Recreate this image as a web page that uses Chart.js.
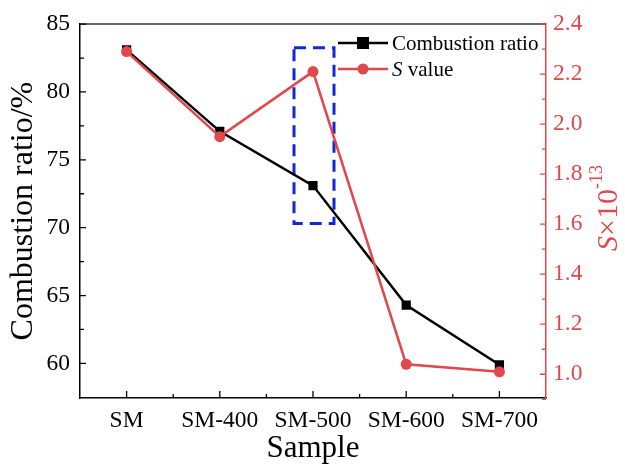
<!DOCTYPE html>
<html>
<head>
<meta charset="utf-8">
<script src="https://cdn.jsdelivr.net/npm/chart.js@4.4.1/dist/chart.umd.min.js"></script>
<style>
  html, body { margin: 0; padding: 0; background: #fff; }
  #wrap { width: 625px; height: 467px; }
</style>
</head>
<body>
<div id="wrap"><canvas id="myChart"></canvas></div>
<script>
(function () {
  'use strict'

  // data
  var samples = ['SM', 'SM-400', 'SM-500', 'SM-600', 'SM-700']
  var combustionRatio = [83.1, 77.1, 73.1, 64.3, 59.9]
  var sValue = [2.29, 1.95, 2.21, 1.04, 1.01]
  var leftTicks = [60, 65, 70, 75, 80, 85]
  var rightTicks = [1.0, 1.2, 1.4, 1.6, 1.8, 2.0, 2.2, 2.4]
  // dashed box around SM-500 (in left-axis units)
  var boxRange = [70.3, 83.25]

  var RED = '#e0484b'
  var BLUE = '#1428d2'
  var FONT = "'Liberation Serif', 'Times New Roman', serif"

  function keepTicks(list) {
    return function (scale) {
      scale.ticks = list.map(function (v) { return { value: v } })
    }
  }

  var extras = {
    id: 'extras',
    beforeDatasetsDraw: function (chart) {
      var ctx = chart.ctx
      var x = chart.scales.x, y = chart.scales.y
      var cx = x.getPixelForValue(2)
      ctx.save()
      ctx.strokeStyle = BLUE
      ctx.lineWidth = 3
      ctx.setLineDash([12, 7])
      ctx.strokeRect(cx - 19, y.getPixelForValue(boxRange[1]), 40, y.getPixelForValue(boxRange[0]) - y.getPixelForValue(boxRange[1]))
      ctx.restore()
    },
    afterDraw: function (chart) {
      var ctx = chart.ctx
      var a = chart.chartArea
      var x = chart.scales.x, y = chart.scales.y, y1 = chart.scales.y1
      var i, p
      ctx.save()
      // top frame line
      ctx.strokeStyle = '#333'
      ctx.lineWidth = 1.5
      ctx.beginPath()
      ctx.moveTo(a.left, a.top); ctx.lineTo(a.right, a.top)
      ctx.stroke()

      // inward ticks
      ctx.lineWidth = 1.3
      ctx.strokeStyle = '#000'
      ctx.beginPath()
      for (i = 0; i < samples.length; i++) {
        p = x.getPixelForValue(i)
        ctx.moveTo(p, a.bottom); ctx.lineTo(p, a.bottom - 7)
        if (i < samples.length - 1) {
          p = (p + x.getPixelForValue(i + 1)) / 2
          ctx.moveTo(p, a.bottom); ctx.lineTo(p, a.bottom - 4)
        }
      }
      for (i = 0; i < leftTicks.length; i++) {
        p = y.getPixelForValue(leftTicks[i])
        ctx.moveTo(a.left, p); ctx.lineTo(a.left + 6, p)
        if (i < leftTicks.length - 1) {
          p = y.getPixelForValue((leftTicks[i] + leftTicks[i + 1]) / 2)
          ctx.moveTo(a.left, p); ctx.lineTo(a.left + 4, p)
        }
      }
      ctx.stroke()
      ctx.strokeStyle = RED
      ctx.beginPath()
      for (i = 0; i < rightTicks.length; i++) {
        p = y1.getPixelForValue(rightTicks[i])
        ctx.moveTo(a.right, p); ctx.lineTo(a.right - 6, p)
        if (i < rightTicks.length - 1) {
          p = y1.getPixelForValue((rightTicks[i] + rightTicks[i + 1]) / 2)
          ctx.moveTo(a.right, p); ctx.lineTo(a.right - 4, p)
        }
      }
      p = y1.getPixelForValue(0.9)
      ctx.moveTo(a.right, p); ctx.lineTo(a.right - 4, p)
      ctx.stroke()

      // legend
      ctx.lineWidth = 2.5
      ctx.strokeStyle = '#000'
      ctx.beginPath(); ctx.moveTo(338, 43); ctx.lineTo(388, 43); ctx.stroke()
      ctx.fillStyle = '#000'
      ctx.fillRect(357, 37, 12, 12)
      ctx.strokeStyle = RED
      ctx.beginPath(); ctx.moveTo(338, 69); ctx.lineTo(388, 69); ctx.stroke()
      ctx.fillStyle = RED
      ctx.beginPath(); ctx.arc(363, 69, 5.5, 0, Math.PI * 2); ctx.fill()
      ctx.fillStyle = '#000'
      ctx.textBaseline = 'middle'
      ctx.textAlign = 'left'
      ctx.font = '21px ' + FONT
      ctx.fillText('Combustion ratio', 392, 44)
      ctx.font = 'italic 21px ' + FONT
      ctx.fillText('S', 392, 70)
      var sw = ctx.measureText('S').width
      ctx.font = '21px ' + FONT
      ctx.fillText(' value', 392 + sw, 70)

      // right axis title  S×10^-13
      ctx.translate(609, 208)
      ctx.rotate(-Math.PI / 2)
      ctx.fillStyle = RED
      ctx.font = 'italic 30px ' + FONT
      var w1 = ctx.measureText('S').width
      ctx.font = '30px ' + FONT
      var w2 = ctx.measureText('\u00d710').width
      ctx.font = '18px ' + FONT
      var w3 = ctx.measureText('-13').width
      var x0 = -(w1 + w2 + w3) / 2
      ctx.font = 'italic 30px ' + FONT
      ctx.fillText('S', x0, 0)
      ctx.font = '30px ' + FONT
      ctx.fillText('\u00d710', x0 + w1, 0)
      ctx.font = '18px ' + FONT
      ctx.fillText('-13', x0 + w1 + w2, -12)
      ctx.restore()
    }
  }

  var ctx01 = document.getElementById('myChart')
  // eslint-disable-next-line no-unused-vars
  var myChart = new Chart(ctx01, {
    type: 'line',
    data: {
      labels: samples,
      datasets: [{
        label: 'Combustion ratio',
        data: combustionRatio,
        yAxisID: 'y',
        borderColor: '#000',
        backgroundColor: '#000',
        borderWidth: 2.5,
        pointStyle: 'rect',
        pointRadius: 6.5,
        pointBorderWidth: 0,
        order: 1
      }, {
        label: 'S value',
        data: sValue,
        yAxisID: 'y1',
        borderColor: RED,
        backgroundColor: RED,
        borderWidth: 2.5,
        pointStyle: 'circle',
        pointRadius: 5.5,
        pointBorderWidth: 0,
        order: 0
      }]
    },
    plugins: [extras],
    options: {
      responsive: true,
      maintainAspectRatio: false,
      animation: false,
      layout: { padding: { top: 21, left: 0, right: 0, bottom: 0 } },
      plugins: {
        legend: { display: false },
        tooltip: { enabled: false }
      },
      scales: {
        x: {
          offset: true,
          grid: { display: true, drawOnChartArea: false, drawTicks: false },
          border: { color: '#000', width: 1.5 },
          ticks: { color: '#000', padding: 9, font: { family: FONT, size: 23.5 }, maxRotation: 0, autoSkip: false },
          title: { display: true, text: 'Sample', color: '#000', font: { family: FONT, size: 31 }, padding: { top: 0, bottom: 0 } },
          afterFit: function (s) { s.height = 69 }
        },
        y: {
          position: 'left',
          min: 57.45,
          max: 85,
          afterBuildTicks: keepTicks(leftTicks),
          grid: { drawOnChartArea: false, drawTicks: false },
          border: { color: '#000', width: 1.5 },
          ticks: { color: '#000', padding: 10, font: { family: FONT, size: 23.5 } },
          title: { display: true, text: 'Combustion ratio/%', color: '#000', font: { family: FONT, size: 32 }, padding: { top: 4, bottom: 0 } },
          afterFit: function (s) { s.width = 80 }
        },
        y1: {
          position: 'right',
          min: 0.905,
          max: 2.4,
          afterBuildTicks: keepTicks(rightTicks),
          grid: { drawOnChartArea: false, drawTicks: false },
          border: { color: RED, width: 1.5 },
          ticks: {
            color: RED, padding: 7, font: { family: FONT, size: 23.5 },
            callback: function (v) { return Number(v).toFixed(1) }
          },
          afterFit: function (s) { s.width = 79 }
        }
      }
    }
  })
}())
</script>
</body>
</html>
